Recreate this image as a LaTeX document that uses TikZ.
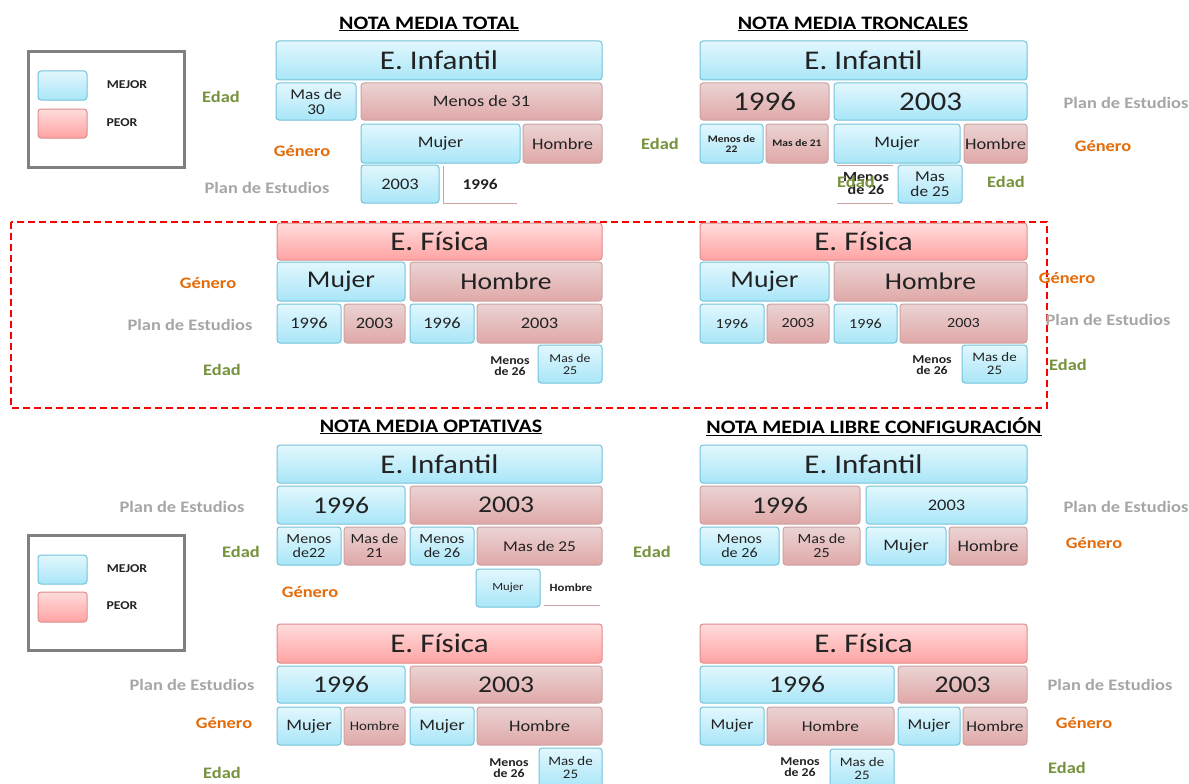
\documentclass[tikz,border=0pt]{standalone}
\usepackage{fontspec}
\setmainfont[FakeStretch=1.15]{Carlito}
\definecolor{bluetop}{HTML}{E2F7FD}
\definecolor{bluebot}{HTML}{A9E6F8}
\definecolor{bluedge}{HTML}{74C3DA}
\definecolor{pinktop}{HTML}{EBD3D3}
\definecolor{pinkbot}{HTML}{E0A8A8}
\definecolor{pinkedge}{HTML}{CBA3A3}
\definecolor{redtop}{HTML}{FFDCDC}
\definecolor{redbot}{HTML}{FFA3A3}
\definecolor{rededge}{HTML}{DE8C8C}
\definecolor{txt}{HTML}{222222}
\definecolor{edadc}{HTML}{76923C}
\definecolor{generoc}{HTML}{E46C0A}
\definecolor{planc}{HTML}{A6A6A6}
\definecolor{legc}{HTML}{808080}
\newcommand\fsz[1]{\fontsize{#1}{#1}\selectfont}
\newcommand\bx[7]{\node[#6, minimum width={(#4-#2)*1pt}, minimum height={(#5-#3)*1pt}] (#1) at ({(#2+#4)/2},{(#3+#5)/2}) {#7};}
\tikzset{
  base/.style={rounded corners=3pt, line width=1pt, inner sep=0pt, align=center, text=txt, font=\fsz{16}},
  bl/.style={base, draw=bluedge, top color=bluetop, bottom color=bluebot},
  pk/.style={base, draw=pinkedge, top color=pinktop, bottom color=pinkbot},
  rd/.style={base, draw=rededge, top color=redtop, bottom color=redbot},
  lab/.style={font=\bfseries\fsz{16}, inner sep=0pt},
  edad/.style={lab, text=edadc},
  gen/.style={lab, text=generoc},
  plan/.style={lab, text=planc},
  ttl/.style={font=\bfseries\fsz{19}, text=black, inner sep=0pt},
  small/.style={font=\bfseries\fontsize{12}{11}\selectfont, align=center, text=txt, inner sep=0pt},
  leg/.style={font=\bfseries\fsz{12}, text=txt, inner sep=0pt},
  big/.style={font=\fsz{27}},
  mid/.style={font=\fsz{24}},
}
\begin{document}
\begin{tikzpicture}[x=1pt,y=-1pt]
\useasboundingbox (0,0) rectangle (1189,784);
\fill[white] (0,0) rectangle (1189,784);

% ---------- Legend 1
\draw[legc, line width=3pt] (28,52) rectangle (184,167);
\bx{lgAb}{38}{71}{87}{100}{bl}{}
\bx{lgAp}{38}{109}{87}{138}{rd}{}
\node[leg] (lgAbt) at (127,85) {MEJOR};
\node[leg] (lgApt) at (122,123) {PEOR};

% ---------- NOTA MEDIA TOTAL
\node[ttl] (t1) at (429,24) {\underline{NOTA MEDIA TOTAL}};
\bx{tlA}{276}{41}{602}{80}{bl,big}{E. Infantil}
\bx{tlB}{276}{83}{356}{120}{bl,font=\fsz{15}}{Mas de\\30}
\bx{tlC}{361}{83}{602}{120}{pk}{Menos de 31}
\bx{tlD}{361}{124}{520}{163}{bl}{Mujer}
\bx{tlE}{523}{124}{602}{163}{pk}{Hombre}
\bx{tlF}{361}{165}{439}{203}{bl}{2003}
\node[txt, font=\bfseries\fsz{15}] (tlG) at (480,184) {1996};
\draw[pinkedge, line width=1pt] (443,166) -- (443,203) -- (517,203);
\node[edad] (l1a) at (221,97) {Edad};
\node[gen] (l1b) at (302,151) {Género};
\node[plan] (l1c) at (267,188) {Plan de Estudios};

% ---------- NOTA MEDIA TRONCALES
\node[ttl] (t2) at (853,24) {\underline{NOTA MEDIA TRONCALES}};
\bx{trA}{700}{41}{1027}{80}{bl,big}{E. Infantil}
\bx{trB}{700}{83}{829}{120}{pk,big}{1996}
\bx{trC}{834}{83}{1027}{120}{bl,big}{2003}
\bx{trD}{700}{124}{763}{163}{bl,font=\bfseries\fsz{10}}{Menos de\\22}
\bx{trE}{766}{124}{828}{163}{pk,font=\bfseries\fsz{10}}{Mas de 21}
\bx{trF}{834}{124}{960}{163}{bl}{Mujer}
\bx{trG}{964}{124}{1027}{163}{pk}{Hombre}
\draw[pinkedge, line width=1pt] (837,165) -- (893,165);
\draw[pinkedge, line width=1pt] (837,203) -- (893,203);
\node[small, font=\bfseries\fontsize{14}{13}\selectfont] (trH) at (866,184) {Menos\\de 26};
\node[edad] (l2e) at (856,182) {Edad};
\bx{trI}{898}{165}{962}{203}{bl,font=\fsz{15}}{Mas\\de 25}
\node[edad] (l2a) at (660,144) {Edad};
\node[plan] (l2b) at (1126,103) {Plan de Estudios};
\node[gen] (l2c) at (1103,146) {Género};
\node[edad] (l2d) at (1006,182) {Edad};

% ---------- dashed frame
\draw[red, line width=1.4pt, dash pattern=on 7pt off 4pt] (11,222) rectangle (1047,408);

% ---------- E. Fisica (total)
\bx{mlA}{277}{223}{602}{260}{rd,big}{E. Física}
\bx{mlB}{277}{262}{405}{301}{bl,mid}{Mujer}
\bx{mlC}{410}{262}{602}{301}{pk,mid}{Hombre}
\bx{mlD}{277}{304}{341}{343}{bl}{1996}
\bx{mlE}{344}{304}{405}{343}{pk}{2003}
\bx{mlF}{410}{304}{474}{343}{bl}{1996}
\bx{mlG}{477}{304}{602}{343}{pk}{2003}
\node[small] (mlH) at (510,366) {Menos\\de 26};
\bx{mlI}{538}{345}{602}{383}{bl,font=\fsz{12}}{Mas de\\25}
\node[gen] (l3a) at (208,283) {Género};
\node[plan] (l3b) at (190,325) {Plan de Estudios};
\node[edad] (l3c) at (222,370) {Edad};

% ---------- E. Fisica (troncales)
\bx{mrA}{700}{223}{1027}{260}{rd,big}{E. Física}
\bx{mrB}{700}{262}{829}{301}{bl,mid}{Mujer}
\bx{mrC}{834}{262}{1027}{301}{pk,mid}{Hombre}
\bx{mrD}{700}{304}{764}{343}{bl,font=\fsz{14}}{1996}
\bx{mrE}{767}{304}{829}{343}{pk,font=\fsz{14}}{2003}
\bx{mrF}{834}{304}{897}{343}{bl,font=\fsz{14}}{1996}
\bx{mrG}{900}{304}{1027}{343}{pk,font=\fsz{14}}{2003}
\node[small] (mrH) at (932,365) {Menos\\de 26};
\bx{mrI}{962}{345}{1027}{383}{bl,font=\fsz{13}}{Mas de\\25}
\node[gen] (l4a) at (1067,278) {Género};
\node[plan] (l4b) at (1108,320) {Plan de Estudios};
\node[edad] (l4c) at (1068,365) {Edad};

% ---------- Legend 2
\draw[legc, line width=3pt] (28,535) rectangle (184,650);
\bx{lgBb}{38}{555}{87}{584}{bl}{}
\bx{lgBp}{38}{592}{87}{622}{rd}{}
\node[leg] (lgBbt) at (127,569) {MEJOR};
\node[leg] (lgBpt) at (122,606) {PEOR};

% ---------- NOTA MEDIA OPTATIVAS
\node[ttl] (t3) at (431,427) {\underline{NOTA MEDIA OPTATIVAS}};
\bx{olA}{277}{445}{602}{483}{bl,big}{E. Infantil}
\bx{olB}{277}{486}{405}{524}{bl,mid}{1996}
\bx{olC}{410}{486}{602}{524}{pk,mid}{2003}
\bx{olD}{277}{527}{341}{565}{bl,font=\fsz{14}}{Menos\\de22}
\bx{olE}{344}{527}{405}{565}{pk,font=\fsz{14}}{Mas de\\21}
\bx{olF}{410}{527}{474}{565}{bl,font=\fsz{14}}{Menos\\de 26}
\bx{olG}{477}{527}{602}{565}{pk,font=\fsz{15}}{Mas de 25}
\bx{olH}{476}{569}{540}{607}{bl,font=\fsz{11}}{Mujer}
\node[small, font=\bfseries\fsz{11}] (olI) at (571,588) {Hombre};
\draw[pinkedge, line width=1pt] (544,605) -- (600,605);
\node[plan] (l5a) at (182,507) {Plan de Estudios};
\node[edad] (l5b) at (241,552) {Edad};
\node[gen] (l5c) at (310,592) {Género};

% ---------- NOTA MEDIA LIBRE CONFIGURACION
\node[ttl] (t4) at (874,427) {\underline{NOTA MEDIA LIBRE CONFIGURACIÓN}};
\bx{lbA}{700}{445}{1027}{483}{bl,big}{E. Infantil}
\bx{lbB}{700}{486}{860}{524}{pk,mid}{1996}
\bx{lbC}{866}{486}{1027}{524}{bl}{2003}
\bx{lbD}{700}{527}{779}{565}{bl,font=\fsz{14}}{Menos\\de 26}
\bx{lbE}{783}{527}{860}{565}{pk,font=\fsz{14}}{Mas de\\25}
\bx{lbF}{866}{527}{946}{565}{bl}{Mujer}
\bx{lbG}{949}{527}{1027}{565}{pk}{Hombre}
\node[edad] (l6a) at (652,552) {Edad};
\node[plan] (l6b) at (1126,507) {Plan de Estudios};
\node[gen] (l6c) at (1094,543) {Género};

% ---------- E. Fisica (optativas)
\bx{fbA}{277}{624}{602}{663}{rd,big}{E. Física}
\bx{fbB}{277}{666}{405}{703}{bl,mid}{1996}
\bx{fbC}{410}{666}{602}{703}{pk,mid}{2003}
\bx{fbD}{277}{707}{341}{745}{bl}{Mujer}
\bx{fbE}{344}{707}{405}{745}{pk,font=\fsz{13}}{Hombre}
\bx{fbF}{410}{707}{474}{745}{bl}{Mujer}
\bx{fbG}{477}{707}{602}{745}{pk}{Hombre}
\node[small] (fbH) at (509,768) {Menos\\de 26};
\bx{fbI}{539}{748}{602}{788}{bl,font=\fsz{13}}{Mas de\\25}
\node[plan] (l7a) at (192,685) {Plan de Estudios};
\node[gen] (l7b) at (224,723) {Género};
\node[edad] (l7c) at (222,773) {Edad};

% ---------- E. Fisica (libre)
\bx{frA}{700}{624}{1027}{663}{rd,big}{E. Física}
\bx{frB}{700}{666}{894}{703}{bl,mid}{1996}
\bx{frC}{898}{666}{1027}{703}{pk,mid}{2003}
\bx{frD}{700}{707}{764}{745}{bl,font=\fsz{15}}{Mujer}
\bx{frE}{767}{707}{894}{745}{pk,font=\fsz{15}}{Hombre}
\bx{frF}{898}{707}{960}{745}{bl,font=\fsz{15}}{Mujer}
\bx{frG}{963}{707}{1027}{745}{pk,font=\fsz{15}}{Hombre}
\node[small] (frH) at (800,767) {Menos\\de 26};
\bx{frI}{830}{749}{894}{788}{bl,font=\fsz{13}}{Mas de\\25}
\node[plan] (l8a) at (1110,685) {Plan de Estudios};
\node[gen] (l8b) at (1084,723) {Género};
\node[edad] (l8c) at (1067,768) {Edad};
\end{tikzpicture}
\end{document}
